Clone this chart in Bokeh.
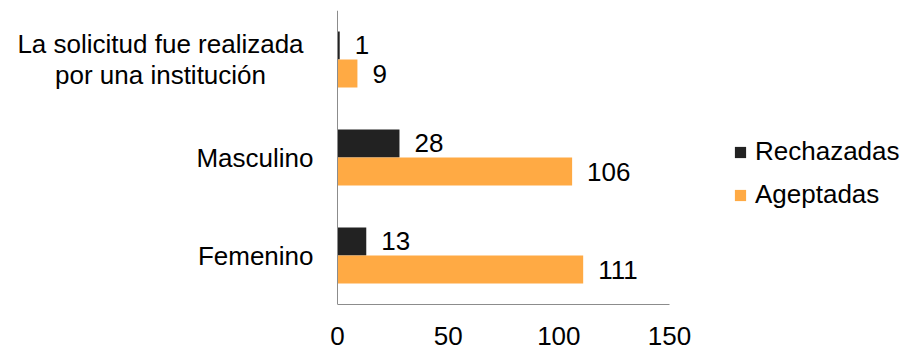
from bokeh.plotting import figure
from bokeh.models import ColumnDataSource, FactorRange, Range1d, LabelSet, Legend, LegendItem, FixedTicker, Span, LinearAxis
from bokeh.transform import dodge
from bokeh.core.properties import value
from bokeh.embed import file_html
from bokeh.resources import INLINE

categories = ["Femenino", "Masculino", "La solicitud fue realizada\npor una institución"]
rechazadas = [13, 28, 1]
ageptadas = [111, 106, 9]
series_names = ["Rechazadas", "Ageptadas"]
x_ticks = [0, 50, 100, 150]

FONT = "Liberation Sans"
FS = "26px"
BLACK = "#222222"
ORANGE = "#FFAA44"
AXIS = "#8c8c8c"

# pixel scale: value axis 0..150 spans 332 px, starting 337 px from the left edge
W, H = 905, 347
ax_left, ax_len = 337, 332
ppu = ax_len / (x_ticks[-1] - x_ticks[0])
xr = Range1d(-ax_left / ppu, (W - ax_left) / ppu)

src = ColumnDataSource(dict(
    cat=categories,
    rech=rechazadas,
    agep=ageptadas,
    rech_t=[str(v) for v in rechazadas],
    agep_t=[str(v) for v in ageptadas],
))

p = figure(width=W, height=H, output_backend="svg", toolbar_location=None,
           y_range=FactorRange(factors=categories, range_padding=0),
           x_range=xr, x_axis_location=None, y_axis_location=None,
           min_border_left=0, min_border_right=0, min_border_top=10, min_border_bottom=43)
p.outline_line_color = None
p.xgrid.visible = False
p.ygrid.visible = False

bh = 0.286
r1 = p.hbar(y=dodge("cat", bh / 2, range=p.y_range), right="rech", left=0, height=bh,
            source=src, fill_color=BLACK, line_color=None)
r2 = p.hbar(y=dodge("cat", -bh / 2, range=p.y_range), right="agep", left=0, height=bh,
            source=src, fill_color=ORANGE, line_color=None)

for fld, off in (("rech", bh / 2), ("agep", -bh / 2)):
    p.add_layout(LabelSet(x=fld, y=dodge("cat", off, range=p.y_range), text=fld + "_t",
                          source=src, x_offset=15, text_baseline="middle",
                          text_font=value(FONT), text_font_size=FS, text_color="#000000"))

# category labels: single-line ones right-aligned, the wrapped one centred line by line
single = [c for c in categories if "\n" not in c]
wrapped = [c for c in categories if "\n" in c]
p.add_layout(LabelSet(x=0, y="cat", text="cat", source=ColumnDataSource(dict(cat=single)),
                      x_offset=-24, text_align="right", text_baseline="middle",
                      text_font=value(FONT), text_font_size=FS, text_color="#000000"))
for c in wrapped:
    lines = c.split("\n")
    n = len(lines)
    for i, ln in enumerate(lines):
        p.add_layout(LabelSet(x=0, y="cat", text="t",
                              source=ColumnDataSource(dict(cat=[c], t=[ln])),
                              x_offset=-177, y_offset=31 * ((n - 1) / 2 - i),
                              text_align="center", text_baseline="middle",
                              text_font=value(FONT), text_font_size=FS, text_color="#000000"))

# value axis line (vertical) at 0
p.add_layout(Span(location=0, dimension="height", line_color=AXIS, line_width=1))

xaxis = LinearAxis(bounds=(x_ticks[0], x_ticks[-1]), ticker=FixedTicker(ticks=x_ticks))
xaxis.major_tick_line_color = None
xaxis.minor_tick_line_color = None
xaxis.major_tick_out = 0
xaxis.major_label_standoff = 22
xaxis.major_label_text_font = FONT
xaxis.major_label_text_font_size = FS
xaxis.major_label_text_color = "#000000"
xaxis.axis_line_color = AXIS
p.add_layout(xaxis, "below")

legend = Legend(items=[LegendItem(label=series_names[0], renderers=[r1]),
                       LegendItem(label=series_names[1], renderers=[r2])],
                location=(733, 94), orientation="vertical",
                padding=0, margin=0, border_line_color=None, background_fill_alpha=0,
                glyph_width=14, glyph_height=14, label_standoff=8, spacing=12,
                label_text_font=FONT, label_text_font_size=FS, label_text_color="#000000")
p.add_layout(legend)

open("out.html", "w").write(file_html(p, INLINE))
